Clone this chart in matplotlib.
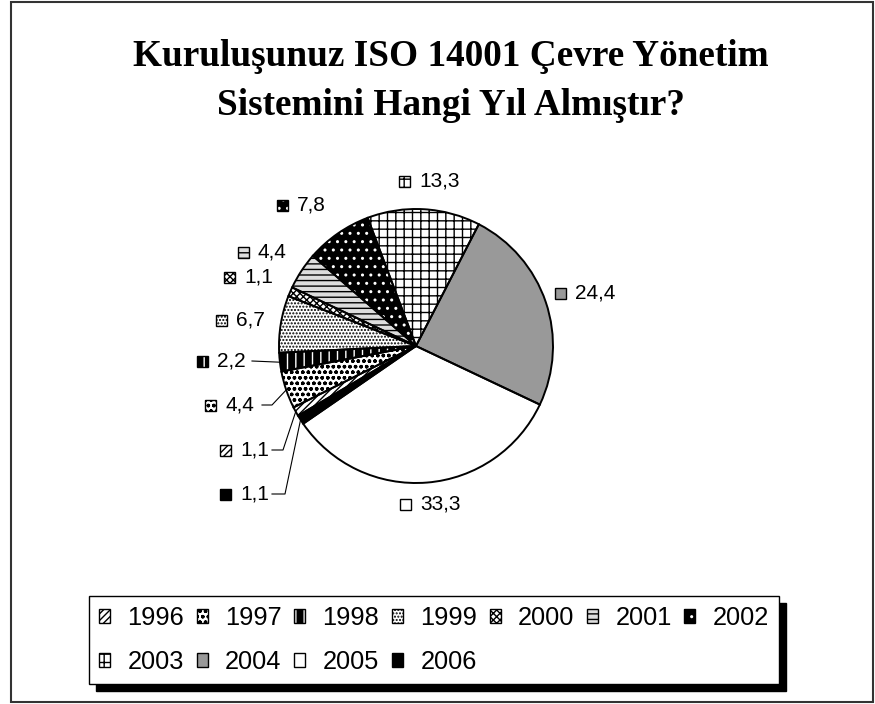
import numpy as np
import matplotlib.pyplot as plt
from matplotlib.patches import Rectangle, Patch
from matplotlib.legend_handler import HandlerTuple

years = ['1996', '1997', '1998', '1999', '2000', '2001', '2002',
         '2003', '2004', '2005', '2006']
shares = [1.1, 4.4, 2.2, 6.7, 1.1, 4.4, 7.8, 13.3, 24.4, 33.3, 1.1]

# fill styles, one per year
faces = ['white', 'white', 'black', 'white', 'white', '#dddddd', 'black',
         'white', '#999999', 'white', 'black']
hatch_cols = ['black', 'black', 'white', 'black', 'black', 'black', 'white',
              'black', 'black', 'black', 'black']
hatches = ['/////', 'ooo', '||', '.....', 'xxxxx', '---', '..', '++', '', '', '']

W, H = 875, 704
CX, CY, R = 416, 346, 137

# label key-square left x / centre y, in picture pixels (y down)
label_xy = [(220, 450), (205, 405), (197, 361), (216, 320), (224, 277),
            (238, 252), (277, 205), (399, 181), (555, 293), (400, 504),
            (220, 494)]
# leader lines: start x, elbow x (None = straight)
leaders = {0: (272, 283), 1: (262, 272), 2: (252, None), 10: (272, 285)}

plt.rcParams['hatch.linewidth'] = 1.0
fig = plt.figure(figsize=(W / 100, H / 100), dpi=100)
ax = fig.add_axes([0, 0, 1, 1])


def py(y):
    return H - y


wedges, _ = ax.pie(shares, startangle=210.6, counterclock=False, radius=R,
                   center=(CX, py(CY)), colors=faces,
                   wedgeprops=dict(linewidth=0))
for w, h, hc in zip(wedges, hatches, hatch_cols):
    w.set_hatch(h)
    w.set_edgecolor(hc)
ax.pie(shares, startangle=210.6, counterclock=False, radius=R,
       center=(CX, py(CY)),
       wedgeprops=dict(facecolor='none', edgecolor='black', linewidth=1.4))

# value labels with little keys
for i, (kx, ky) in enumerate(label_xy):
    ax.add_patch(Rectangle((kx, py(ky) - 5.5), 11, 11, facecolor=faces[i],
                           edgecolor=hatch_cols[i], hatch=hatches[i], lw=0))
    ax.add_patch(Rectangle((kx, py(ky) - 5.5), 11, 11, facecolor='none',
                           edgecolor='black', lw=1))
    ax.text(kx + 20, py(ky), ('%.1f' % shares[i]).replace('.', ','),
            ha='left', va='center', fontsize=15, family='Liberation Sans')
for i, (x0, xe) in leaders.items():
    mid = np.radians((wedges[i].theta1 + wedges[i].theta2) / 2)
    ex, ey = CX + R * np.cos(mid), py(CY) + R * np.sin(mid)
    ly = py(label_xy[i][1])
    xs, ys = [x0], [ly]
    if xe is not None:
        xs.append(xe)
        ys.append(ly)
    xs.append(ex)
    ys.append(ey)
    ax.plot(xs, ys, color='black', lw=0.8)

ax.set_xlim(0, W)
ax.set_ylim(0, H)
ax.set_aspect('auto')
ax.axis('off')

# title
fig.text(451 / W, 1 - 81 / H, 'Kuruluşunuz ISO 14001 Çevre Yönetim\nSistemini Hangi Yıl Almıştır?',
         ha='center', va='center', family='Liberation Serif', fontweight='bold',
         fontsize=26.8, linespacing=1.55)

# legend, filled row by row
handles = []
for i in range(len(years)):
    handles.append((Patch(facecolor=faces[i], edgecolor=hatch_cols[i],
                          hatch=hatches[i], lw=0),
                    Patch(facecolor='none', edgecolor='black', lw=1)))
order = [0, 7, 1, 8, 2, 9, 3, 10, 4, 5, 6]
leg = ax.legend([handles[k] for k in order], [years[k] for k in order],
                handler_map={tuple: HandlerTuple(ndivide=1)},
                ncol=7, loc='upper left',
                bbox_to_anchor=(89 / W, py(596) / H),
                bbox_transform=fig.transFigure,
                prop={'family': 'Liberation Sans', 'size': 18.3},
                handlelength=0.43, handleheight=0.43, handletextpad=0.68,
                columnspacing=0.5, labelspacing=0.78, borderaxespad=0,
                borderpad=0.4, fancybox=False, edgecolor='black', framealpha=1,
                shadow={'ox': 5, 'oy': -5, 'color': 'black', 'alpha': 1})
leg.get_frame().set_linewidth(1)

# outer frame
fig.add_artist(Rectangle((11 / W, 2 / H), (W - 13) / W, (H - 4) / H,
                         transform=fig.transFigure, facecolor='none',
                         edgecolor='#333333', lw=1.5))

fig.savefig('out.png', dpi=100)
